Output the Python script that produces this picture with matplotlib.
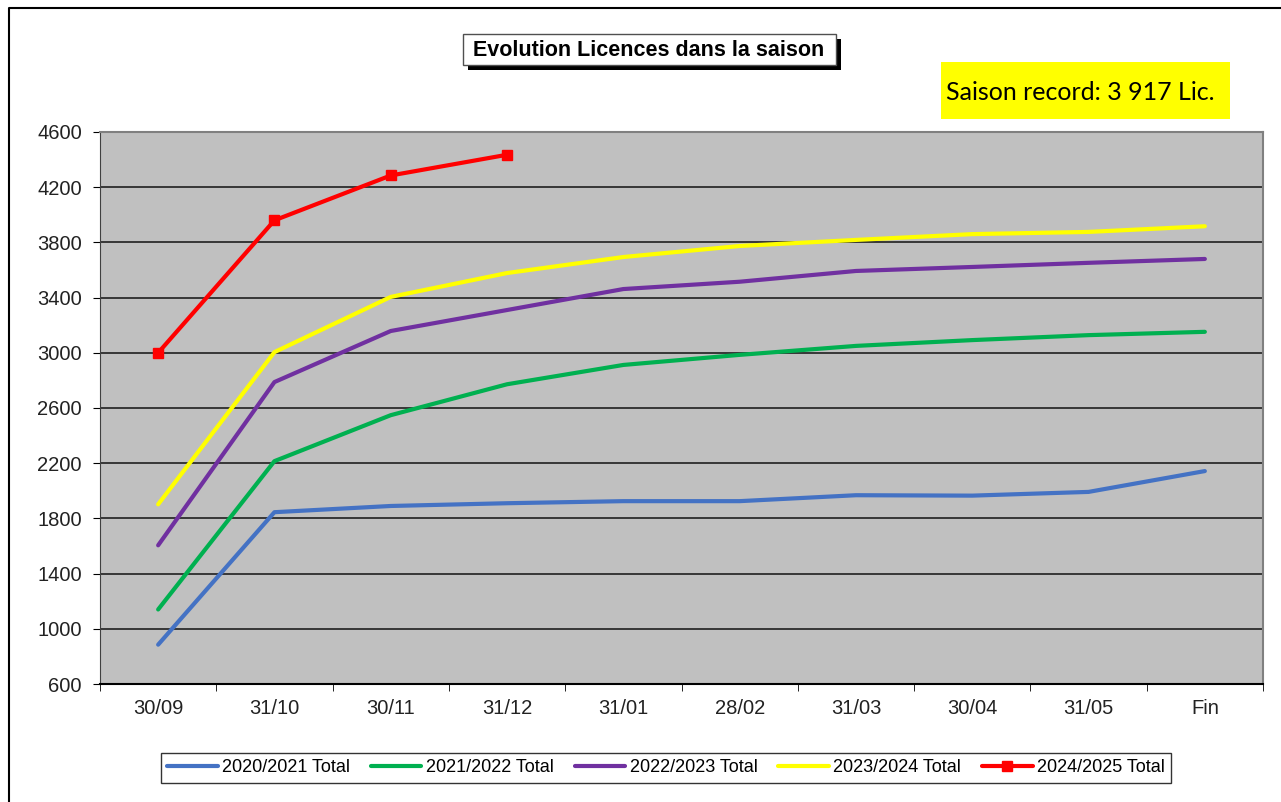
import numpy as np
import matplotlib.pyplot as plt
from matplotlib.patches import Rectangle
from matplotlib.lines import Line2D

plt.rcParams['font.family'] = ['Liberation Sans', 'DejaVu Sans']

categories = ['30/09', '31/10', '30/11', '31/12', '31/01', '28/02', '31/03', '30/04', '31/05', 'Fin']
s2021 = [885, 1845, 1890, 1910, 1925, 1925, 1968, 1965, 1992, 2143]
s2122 = [1140, 2215, 2548, 2772, 2912, 2985, 3050, 3092, 3128, 3152]
s2223 = [1605, 2788, 3158, 3310, 3462, 3515, 3593, 3622, 3652, 3680]
s2324 = [1902, 3005, 3405, 3578, 3694, 3774, 3818, 3860, 3876, 3917]
s2425 = [3000, 3960, 4285, 4435]

series = [
    ('2020/2021 Total', s2021, '#4472C4', None),
    ('2021/2022 Total', s2122, '#00B050', None),
    ('2022/2023 Total', s2223, '#7030A0', None),
    ('2023/2024 Total', s2324, '#FFFF00', None),
    ('2024/2025 Total', s2425, '#FF0000', 's'),
]

W, H = 1281, 802
fig = plt.figure(figsize=(W / 100, H / 100), dpi=100)
ax = fig.add_axes([100 / W, 1 - 684 / H, (1263 - 100) / W, (684 - 132) / H])
ax.set_facecolor('#C0C0C0')

x = np.arange(len(categories))
for name, vals, col, mk in series:
    ax.plot(x[:len(vals)], vals, color=col, lw=3, marker=mk, ms=7, mec=col,
            label=name, solid_capstyle='round', solid_joinstyle='round', zorder=3)

ax.set_xlim(-0.5, len(categories) - 0.5)
ax.set_ylim(600, 4600)
ax.set_yticks(np.arange(600, 4601, 400))
ax.yaxis.grid(True, color='#202020', lw=1.2)
ax.set_axisbelow(True)

ax.set_xticks(x)
ax.set_xticklabels(categories)
ax.set_xticks(np.arange(-0.5, len(categories)), minor=True)
ax.tick_params(axis='x', which='major', length=0, pad=11, labelsize=14.5)
ax.tick_params(axis='x', which='minor', length=5, color='black', direction='out')
ax.tick_params(axis='y', length=5, color='black', direction='out', labelsize=14.5, pad=8)
for t in ax.get_xticklabels() + ax.get_yticklabels():
    t.set_color('#222222')

ax.spines['left'].set_color('#404040')
ax.spines['bottom'].set_color('black')
ax.spines['bottom'].set_linewidth(1.5)
ax.spines['top'].set_color('#808080')
ax.spines['right'].set_color('#808080')
ax.spines['top'].set_linewidth(1.5)
ax.spines['right'].set_linewidth(1.5)

# legend
leg = fig.legend(loc='center', bbox_to_anchor=(666 / W, 1 - 768 / H), ncol=5,
                 fontsize=13, frameon=True, fancybox=False, handlelength=2.8,
                 handletextpad=0.25, columnspacing=1.15, borderpad=0.35)
leg.get_frame().set_edgecolor('black')
leg.get_frame().set_linewidth(1)
for h in leg.get_lines():
    h.set_linewidth(3)

# title box with shadow
fig.patches.append(Rectangle((468 / W, 1 - 70 / H), (836 - 463) / W, (65 - 34) / H,
                             transform=fig.transFigure, facecolor='black', edgecolor='none'))
fig.patches.append(Rectangle((463 / W, 1 - 65 / H), (836 - 463) / W, (65 - 34) / H,
                             transform=fig.transFigure, facecolor='white', edgecolor='#505050', lw=1))
fig.text(649 / W, 1 - 50.5 / H, 'Evolution Licences dans la saison', ha='center', va='center',
         fontsize=15.5, fontweight='bold', color='black')

# record box
fig.patches.append(Rectangle((941 / W, 1 - 119 / H), (1230 - 941) / W, (119 - 62) / H,
                             transform=fig.transFigure, facecolor='#FFFF00', edgecolor='none'))
fig.text(946 / W, 1 - 93 / H, 'Saison record: 3 917 Lic.', ha='left', va='center',
         fontsize=18, family=['Lato', 'DejaVu Sans'], color='black')

# outer frame (left and top)
fig.lines.append(Line2D([9 / W, 9 / W, 1], [0, 1 - 8 / H, 1 - 8 / H], transform=fig.transFigure,
                        color='black', lw=1.5))

plt.savefig('out.png', dpi=100)
